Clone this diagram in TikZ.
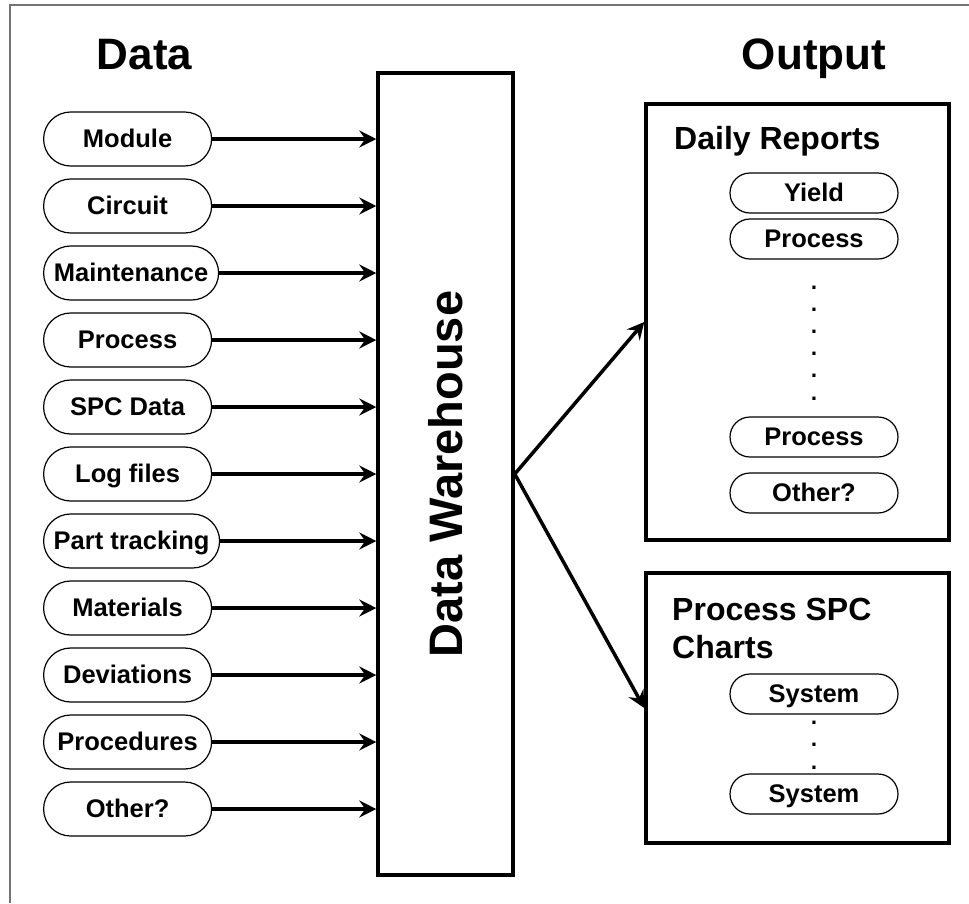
\documentclass[tikz,border=0pt]{standalone}
\usepackage{fontspec}
\setmainfont{Liberation Sans}
\newfontfamily\dotfont{DejaVu Sans}
\usetikzlibrary{arrows.meta}
\begin{document}
\begin{tikzpicture}[x=1pt,y=-1pt,
  frame/.style={draw=black!55, line width=1.2pt},
  title/.style={font=\fontsize{44}{53}\selectfont\bfseries, inner sep=0pt},
  subtitle/.style={font=\fontsize{32}{38}\selectfont\bfseries, inner sep=0pt},
  dwtext/.style={font=\fontsize{47}{56}\selectfont\bfseries, inner sep=0pt, rotate=90},
  bigbox/.style={draw, line width=3.5pt, inner sep=0pt},
  lpill/.style={draw, line width=1.2pt, rounded corners=27pt, minimum height=54pt,
    minimum width=168pt, inner sep=0pt, text height=19pt, text depth=3pt,
    font=\fontsize{25.5}{30}\selectfont\bfseries, anchor=west},
  rpill/.style={draw, line width=1.2pt, rounded corners=20pt, minimum height=40pt,
    minimum width=168pt, inner sep=0pt, text height=19pt, text depth=3pt,
    font=\fontsize{25.5}{30}\selectfont\bfseries},
  dotcol/.style={font=\dotfont\fontsize{18}{22.2}\selectfont\bfseries, inner sep=0pt,
    align=center, anchor=base},
  arr/.style={line width=3.5pt, -{Stealth[length=17pt, width=17pt, inset=6pt]}}]
  \useasboundingbox (0,0) rectangle (969,903);
  \draw[frame] (10,903) -- (10,5) -- (969,5);
  % titles
  \node[title, anchor=base] (tdata) at (144.5,69.5) {Data};
  \node[title, anchor=base] (tout) at (814,69) {Output};
  % data warehouse
  \node[bigbox, minimum width=135pt, minimum height=802pt] (dw) at (445.5,474) {};
  \node[dwtext] (dwt) at (dw.center) {Data Warehouse};
  % left pills
  \node[lpill] (m1) at (43,139) {Module};
  \node[lpill] (m2) at (43,206) {Circuit};
  \node[lpill, minimum width=175pt] (m3) at (43,273) {Maintenance};
  \node[lpill] (m4) at (43,340) {Process};
  \node[lpill] (m5) at (43,407) {SPC Data};
  \node[lpill] (m6) at (43,474) {Log files};
  \node[lpill, minimum width=176pt] (m7) at (43,541) {Part tracking};
  \node[lpill] (m8) at (43,608) {Materials};
  \node[lpill] (m9) at (43,675) {Deviations};
  \node[lpill] (m10) at (43,742) {Procedures};
  \node[lpill] (m11) at (43,809) {Other?};
  \foreach \i in {1,...,11}
    \draw[arr] (m\i.east) -- (dw.west |- m\i.east);
  % daily reports
  \node[bigbox, minimum width=303pt, minimum height=436pt] (dr) at (797.5,322) {};
  \node[subtitle, anchor=base west] (drt) at (674,149) {Daily Reports};
  \node[rpill] (r1) at (814,193) {Yield};
  \node[rpill] (r2) at (814,239) {Process};
  \node[rpill] (r3) at (814,437) {Process};
  \node[rpill] (r4) at (814,493) {Other?};
  \node[dotcol] (rdots) at (814,400) {.\\.\\.\\.\\.\\.};
  % process SPC charts
  \node[bigbox, minimum width=303pt, minimum height=270pt] (spc) at (797.5,708) {};
  \node[subtitle, anchor=north west, align=left] (spct) at (672,598) {Process SPC\\Charts};
  \node[rpill] (s1) at (814,694) {System};
  \node[rpill] (s2) at (814,794) {System};
  \node[dotcol] (sdots) at (814,769) {.\\.\\.};
  % outputs
  \draw[arr] (dw.east) -- (dr.west);
  \draw[arr] (dw.east) -- (spc.west);
\end{tikzpicture}
\end{document}
